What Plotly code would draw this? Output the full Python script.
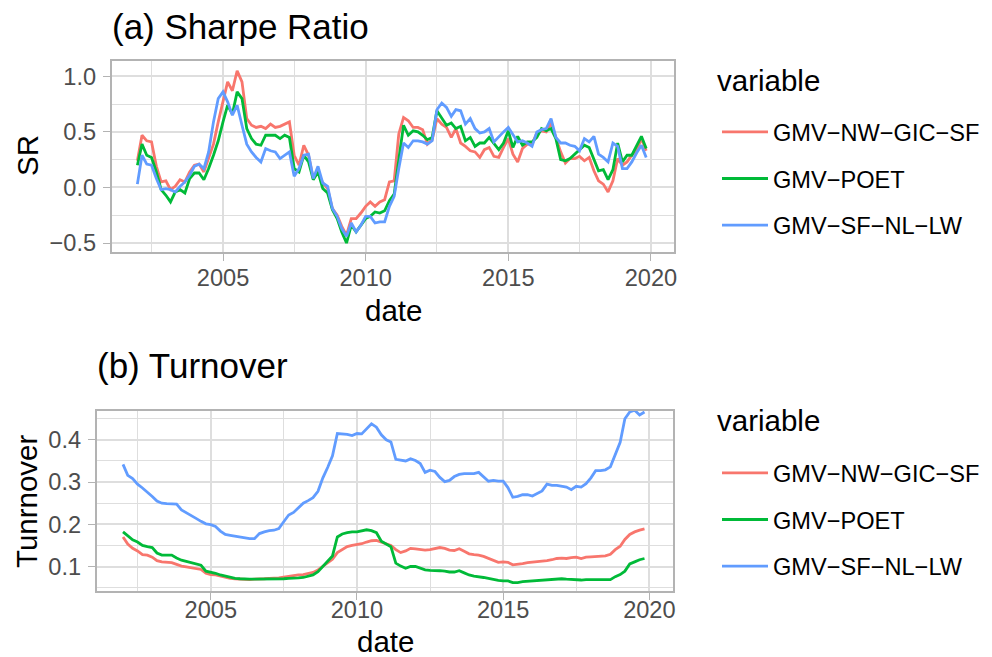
import pandas as pd
import plotly.graph_objects as go

# ---------------- data (bimonthly) ----------------
dates = pd.date_range("2002-01-01", periods=108, freq="2MS")

series_names = ["GMV\u2212NW\u2212GIC\u2212SF", "GMV\u2212POET", "GMV\u2212SF\u2212NL\u2212LW"]
series_colors = ["#F8766D", "#00BA38", "#619CFF"]

sr_nw_gic_sf = [0.24, 0.47, 0.42, 0.41, 0.19, 0.05, 0.06, -0.02, 0.01, 0.07, 0.05, 0.14,
                0.20, 0.21, 0.14, 0.27, 0.39, 0.59, 0.77, 0.95, 0.87, 1.05, 0.95, 0.62,
                0.56, 0.54, 0.55, 0.53, 0.57, 0.54, 0.55, 0.57, 0.59, 0.29, 0.20, 0.38,
                0.29, 0.08, 0.14, 0.04, -0.01, -0.19, -0.25, -0.35, -0.43, -0.28, -0.28, -0.23,
                -0.17, -0.13, -0.17, -0.13, -0.11, 0.05, 0.06, 0.48, 0.63, 0.60, 0.54, 0.54,
                0.52, 0.39, 0.43, 0.62, 0.57, 0.54, 0.45, 0.53, 0.40, 0.37, 0.33, 0.32,
                0.27, 0.34, 0.36, 0.28, 0.27, 0.36, 0.44, 0.30, 0.23, 0.35, 0.39, 0.39,
                0.49, 0.51, 0.50, 0.58, 0.45, 0.32, 0.22, 0.26, 0.26, 0.28, 0.24, 0.27,
                0.15, 0.06, 0.03, -0.04, 0.06, 0.26, 0.20, 0.23, 0.29, 0.33, 0.44, 0.33]
sr_poet = [0.20, 0.39, 0.29, 0.27, 0.14, -0.02, -0.07, -0.13, -0.04, -0.02, -0.05, 0.08,
           0.13, 0.13, 0.07, 0.17, 0.29, 0.42, 0.59, 0.74, 0.66, 0.86, 0.80, 0.53,
           0.44, 0.39, 0.38, 0.47, 0.47, 0.47, 0.44, 0.47, 0.45, 0.17, 0.14, 0.29,
           0.23, 0.07, 0.14, -0.01, -0.05, -0.20, -0.28, -0.40, -0.50, -0.34, -0.40, -0.34,
           -0.28, -0.26, -0.22, -0.23, -0.21, -0.12, -0.06, 0.25, 0.56, 0.47, 0.51, 0.50,
           0.47, 0.43, 0.45, 0.69, 0.62, 0.56, 0.58, 0.53, 0.55, 0.42, 0.45, 0.37,
           0.40, 0.40, 0.45, 0.40, 0.34, 0.40, 0.51, 0.36, 0.46, 0.38, 0.41, 0.41,
           0.45, 0.53, 0.51, 0.53, 0.44, 0.25, 0.24, 0.26, 0.30, 0.34, 0.38, 0.36,
           0.26, 0.15, 0.16, 0.07, 0.16, 0.40, 0.23, 0.29, 0.29, 0.37, 0.46, 0.35]
sr_sf_nl_lw = [0.03, 0.29, 0.21, 0.20, 0.08, -0.02, -0.01, -0.02, -0.04, 0.01, 0.05, 0.11,
               0.19, 0.21, 0.17, 0.32, 0.59, 0.80, 0.86, 0.77, 0.65, 0.74, 0.56, 0.39,
               0.32, 0.27, 0.23, 0.35, 0.33, 0.32, 0.26, 0.29, 0.32, 0.10, 0.17, 0.29,
               0.30, 0.08, 0.19, 0.04, 0.01, -0.19, -0.26, -0.37, -0.44, -0.32, -0.40, -0.34,
               -0.26, -0.26, -0.32, -0.31, -0.31, -0.17, -0.08, 0.17, 0.40, 0.36, 0.42, 0.42,
               0.41, 0.39, 0.42, 0.70, 0.76, 0.72, 0.64, 0.70, 0.69, 0.57, 0.62, 0.53,
               0.49, 0.50, 0.53, 0.41, 0.46, 0.50, 0.54, 0.47, 0.41, 0.42, 0.40, 0.37,
               0.50, 0.52, 0.53, 0.62, 0.45, 0.40, 0.40, 0.38, 0.37, 0.33, 0.44, 0.41,
               0.46, 0.30, 0.27, 0.23, 0.40, 0.37, 0.17, 0.17, 0.23, 0.31, 0.38, 0.27]

to_nw_gic_sf = [0.170, 0.153, 0.143, 0.137, 0.128, 0.127, 0.122, 0.114, 0.111, 0.110, 0.109, 0.105,
                0.101, 0.099, 0.097, 0.095, 0.093, 0.084, 0.081, 0.080, 0.077, 0.075, 0.072, 0.071,
                0.070, 0.069, 0.069, 0.070, 0.070, 0.071, 0.072, 0.072, 0.073, 0.075, 0.077, 0.078,
                0.080, 0.081, 0.083, 0.086, 0.092, 0.100, 0.110, 0.117, 0.133, 0.141, 0.147, 0.150,
                0.152, 0.154, 0.158, 0.161, 0.162, 0.158, 0.155, 0.150, 0.140, 0.133, 0.137, 0.143,
                0.142, 0.140, 0.139, 0.140, 0.142, 0.145, 0.143, 0.139, 0.138, 0.142, 0.136, 0.130,
                0.128, 0.127, 0.124, 0.119, 0.114, 0.110, 0.111, 0.110, 0.104, 0.105, 0.107, 0.109,
                0.110, 0.112, 0.113, 0.114, 0.116, 0.119, 0.120, 0.119, 0.121, 0.122, 0.119, 0.122,
                0.123, 0.124, 0.124, 0.125, 0.129, 0.140, 0.148, 0.164, 0.176, 0.182, 0.186, 0.189]
to_poet = [0.182, 0.172, 0.163, 0.158, 0.150, 0.147, 0.145, 0.132, 0.127, 0.127, 0.127, 0.120,
           0.115, 0.112, 0.109, 0.106, 0.103, 0.089, 0.087, 0.084, 0.080, 0.077, 0.074, 0.072,
           0.071, 0.070, 0.070, 0.070, 0.070, 0.070, 0.070, 0.070, 0.070, 0.071, 0.072, 0.072,
           0.073, 0.074, 0.077, 0.080, 0.088, 0.100, 0.114, 0.125, 0.170, 0.177, 0.180, 0.182,
           0.182, 0.184, 0.187, 0.185, 0.180, 0.160, 0.154, 0.147, 0.108, 0.101, 0.096, 0.100,
           0.100, 0.096, 0.092, 0.091, 0.091, 0.090, 0.089, 0.087, 0.087, 0.090, 0.085, 0.080,
           0.077, 0.076, 0.074, 0.072, 0.069, 0.067, 0.066, 0.066, 0.062, 0.062, 0.064, 0.065,
           0.065, 0.066, 0.068, 0.068, 0.069, 0.070, 0.071, 0.070, 0.069, 0.069, 0.068, 0.069,
           0.069, 0.068, 0.068, 0.068, 0.069, 0.076, 0.081, 0.089, 0.106, 0.111, 0.116, 0.119]
to_sf_nl_lw = [0.342, 0.316, 0.308, 0.295, 0.286, 0.277, 0.266, 0.255, 0.250, 0.249, 0.248, 0.248,
               0.234, 0.228, 0.222, 0.214, 0.207, 0.201, 0.199, 0.195, 0.184, 0.176, 0.174, 0.172,
               0.170, 0.168, 0.166, 0.166, 0.178, 0.182, 0.185, 0.186, 0.190, 0.206, 0.222, 0.228,
               0.240, 0.250, 0.256, 0.263, 0.278, 0.310, 0.335, 0.362, 0.415, 0.414, 0.413, 0.410,
               0.415, 0.414, 0.425, 0.438, 0.430, 0.412, 0.400, 0.395, 0.354, 0.352, 0.350, 0.355,
               0.351, 0.344, 0.323, 0.328, 0.325, 0.311, 0.301, 0.304, 0.313, 0.318, 0.320, 0.320,
               0.320, 0.323, 0.312, 0.302, 0.304, 0.302, 0.302, 0.287, 0.264, 0.266, 0.270, 0.270,
               0.267, 0.272, 0.279, 0.295, 0.292, 0.292, 0.290, 0.288, 0.282, 0.290, 0.288, 0.296,
               0.310, 0.327, 0.327, 0.329, 0.336, 0.367, 0.394, 0.450, 0.466, 0.470, 0.459, 0.466]

sr_series = [sr_nw_gic_sf, sr_poet, sr_sf_nl_lw]
to_series = [to_nw_gic_sf, to_poet, to_sf_nl_lw]

# ---------------- figure ----------------
W, H = 992, 657
FONT = "Liberation Sans, Arial, Helvetica, sans-serif"
TICK_COL = "#4D4D4D"
GRID = "#DEDEDE"
BORDER = "#B3B3B3"

fig = go.Figure()

for i in range(3):
    fig.add_trace(go.Scatter(
        x=dates, y=sr_series[i], mode="lines", name=series_names[i],
        line=dict(color=series_colors[i], width=2.8),
        xaxis="x", yaxis="y", legend="legend", legendgroup="a%d" % i))
for i in range(3):
    fig.add_trace(go.Scatter(
        x=dates, y=to_series[i], mode="lines", name=series_names[i],
        line=dict(color=series_colors[i], width=2.8),
        xaxis="x2", yaxis="y2", legend="legend2", legendgroup="b%d" % i))


def px_x(p):
    return p / W


def px_y(p):
    return 1 - p / H


xrange = ["2001-02-10", "2020-10-22"]
common_x = dict(
    type="date", range=xrange, tick0="2005-01-01", dtick="M60", tickformat="%Y",
    showgrid=True, gridcolor=GRID, gridwidth=1.5,
    minor=dict(dtick="M30", tick0="2002-07-01", showgrid=True, gridcolor=GRID, gridwidth=0.8),
    ticks="outside", ticklen=7, tickwidth=1.3, tickcolor=BORDER,
    tickfont=dict(family=FONT, size=23.6, color=TICK_COL),
    showline=True, mirror=True, linecolor=BORDER, linewidth=2.3,
    zeroline=False, automargin=False,
)
common_y = dict(
    showgrid=True, gridcolor=GRID, gridwidth=1.5,
    ticks="outside", ticklen=7, tickwidth=1.3, tickcolor=BORDER,
    tickfont=dict(family=FONT, size=23.6, color=TICK_COL),
    showline=True, mirror=True, linecolor=BORDER, linewidth=2.3,
    zeroline=False, automargin=False, ticklabelstandoff=2,
)

legend_common = dict(
    xanchor="left", yanchor="top",
    font=dict(family=FONT, size=23.6, color="black"),
    tracegroupgap=13, itemwidth=46, bgcolor="rgba(0,0,0,0)",
)

fig.update_layout(
    width=W, height=H,
    margin=dict(l=0, r=0, t=0, b=0),
    paper_bgcolor="white", plot_bgcolor="white",
    font=dict(family=FONT, color="black"),
    xaxis=dict(common_x, domain=[px_x(112), px_x(674)], anchor="y", ticklabelstandoff=-3),
    yaxis=dict(common_y, domain=[px_y(251.7), px_y(61)], anchor="x",
               range=[-0.578, 1.138], tickvals=[-0.5, 0, 0.5, 1.0],
               ticktext=["\u22120.5", "0.0", "0.5", "1.0"],
               minor=dict(tickvals=[-0.25, 0.25, 0.75], showgrid=True, gridcolor=GRID, gridwidth=0.8)),
    xaxis2=dict(common_x, domain=[px_x(97), px_x(673)], anchor="y2", ticklabelstandoff=-10),
    yaxis2=dict(common_y, domain=[px_y(591), px_y(410.7)], anchor="x2",
                range=[0.042, 0.469], tickvals=[0.1, 0.2, 0.3, 0.4],
                ticktext=["0.1", "0.2", "0.3", "0.4"],
                minor=dict(tickvals=[0.05, 0.15, 0.25, 0.35, 0.45], showgrid=True, gridcolor=GRID, gridwidth=0.8)),
    legend=dict(legend_common, x=px_x(717), y=px_y(110)),
    legend2=dict(legend_common, x=px_x(717), y=px_y(451)),
    showlegend=True,
)

ann = dict(showarrow=False, xref="paper", yref="paper")
big = dict(family=FONT, size=35, color="black")
mid = dict(family=FONT, size=29.5, color="black")
fig.add_annotation(ann, text="(a) Sharpe Ratio", x=px_x(110), y=px_y(27), xanchor="left",
                   yanchor="middle", font=big)
fig.add_annotation(ann, text="(b) Turnover", x=px_x(95), y=px_y(365), xanchor="left",
                   yanchor="middle", font=big)
fig.add_annotation(ann, text="variable", x=px_x(715), y=px_y(80), xanchor="left",
                   yanchor="middle", font=mid)
fig.add_annotation(ann, text="variable", x=px_x(715), y=px_y(420), xanchor="left",
                   yanchor="middle", font=mid)
fig.add_annotation(ann, text="SR", x=px_x(27), y=px_y(156), textangle=-90,
                   xanchor="center", yanchor="middle", font=mid)
fig.add_annotation(ann, text="Tunrnover", x=px_x(26), y=px_y(501), textangle=-90,
                   xanchor="center", yanchor="middle", font=mid)
fig.add_annotation(ann, text="date", x=px_x(393), y=px_y(310), xanchor="center",
                   yanchor="middle", font=mid)
fig.add_annotation(ann, text="date", x=px_x(385), y=px_y(659.5), xanchor="center",
                   yanchor="bottom", font=mid)

fig.write_html(
    "out.html",
    config={"displayModeBar": False},
    post_script="document.body.style.margin='0';document.body.style.overflow='hidden';",
)
